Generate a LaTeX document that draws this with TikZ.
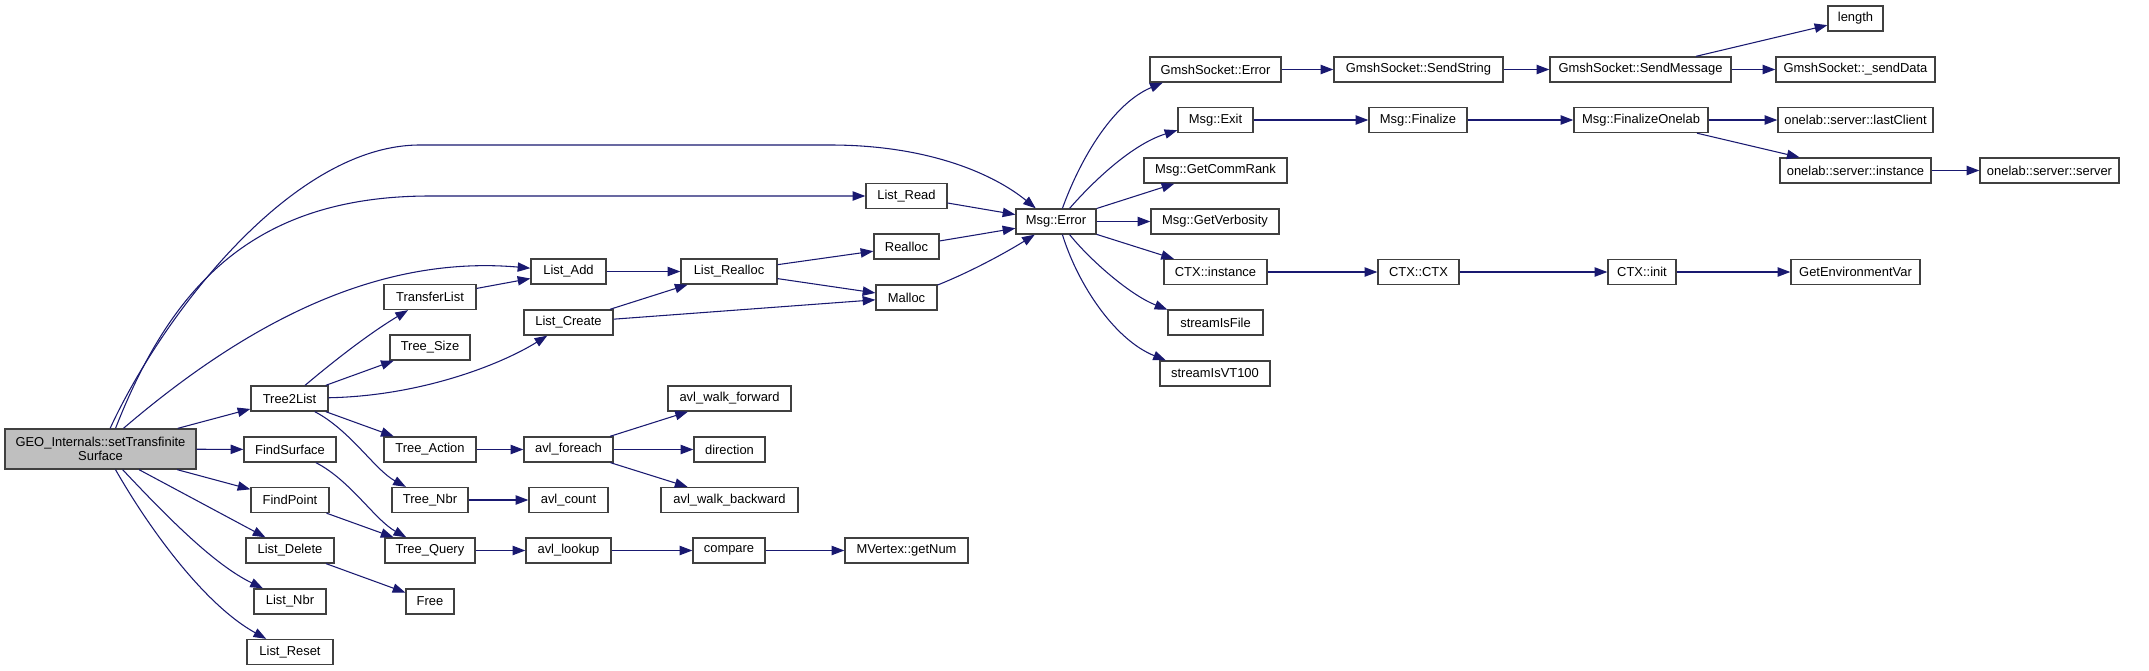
\documentclass[tikz,border=0pt]{standalone}
\usepackage{fontspec}
\setmainfont{Liberation Sans}
\usepackage{xcolor}
\definecolor{CallBlue}{HTML}{191970}
\definecolor{BoxEdge}{HTML}{404040}
\definecolor{RootGray}{HTML}{BFBFBF}
\usepackage{tikz}
\usetikzlibrary{arrows.meta}

\tikzset{
  fn/.style={draw=BoxEdge, line width=1pt, fill=white, rectangle,
    inner xsep=2pt, inner ysep=0pt, minimum height=18.75pt,
    font=\fontsize{9.7}{10.8}\selectfont, text=black},
  call/.style={draw=CallBlue, line width=0.8pt,
    -{Triangle[length=9.5pt,width=7pt]}},
}

\begin{document}
\begin{tikzpicture}[x=0.75pt, y=-0.75pt]
  \useasboundingbox (0,0) rectangle (2149,671);
  % root function
  \node[fn, fill=RootGray, align=center, minimum width=143.25pt, minimum height=30pt]
    (geo) at (100.5,449) {GEO\_Internals::setTransfinite\\Surface};
  % callees: name/x/y/width(px)/label
  \foreach \nm/\cx/\cy/\w/\txt in {
    t2l/289.5/398.5/77/Tree2List,
    fsurf/290/449.5/92/FindSurface,
    fpoint/290/500/78/FindPoint,
    ldel/290/550.5/88/List\_Delete,
    lnbr/290/601.5/72/List\_Nbr,
    lreset/290/652/86/List\_Reset,
    tlist/430/297/92/TransferList,
    tsize/430/347.5/80/Tree\_Size,
    tact/430/449.5/92/Tree\_Action,
    tnbr/430/500/76/Tree\_Nbr,
    tquery/430/550.5/90/Tree\_Query,
    free/430/601.5/48/Free,
    ladd/568.5/271.5/75/List\_Add,
    lcreate/568.5/322.5/89/List\_Create,
    avlfe/568.5/449.5/89/avl\_foreach,
    avlcnt/568.5/500/79/avl\_count,
    avllk/568.5/550.5/85/avl\_lookup,
    lrealloc/729/271.5/96/List\_Realloc,
    awf/729.5/398.5/123/avl\_walk\_forward,
    dirn/729.5/449.5/71/direction,
    awb/729.5/500/137/avl\_walk\_backward,
    cmp/729/550.5/72/compare,
    getnum/906.5/550.5/123/MVertex::getNum,
    lread/906.5/196/81/List\_Read,
    realloc/906.5/246.5/65/Realloc,
    malloc/906.5/297.5/61/Malloc,
    merr/1056/221.5/80/Msg::Error,
    gerr/1215.5/69.5/131/GmshSocket::Error,
    mexit/1215.5/120/75/Msg::Exit,
    crank/1215.5/170.5/143/Msg::GetCommRank,
    verb/1215/221.5/128/Msg::GetVerbosity,
    ctxi/1215.5/272/103/CTX::instance,
    sfile/1215.5/322.5/95/streamIsFile,
    svt/1215/373.5/110/streamIsVT100,
    sstr/1418.5/69.5/169/GmshSocket::SendString,
    fin/1418/120/98/Msg::Finalize,
    ctxctx/1418.5/272/81/CTX::CTX,
    smsg/1640.5/69.5/181/GmshSocket::SendMessage,
    fonelab/1641/120/134/Msg::FinalizeOnelab,
    ctxinit/1642/272/68/CTX::init,
    len/1855.5/18.5/55/length,
    sdata/1855.5/69.5/159/GmshSocket::\_sendData,
    lastc/1855.5/120/155/onelab::server::lastClient,
    oinst/1855.5/170.5/151/onelab::server::instance,
    oserv/2049.5/170.5/139/onelab::server::server,
    genv/1855.5/272/129/GetEnvironmentVar}{
    \node[fn, minimum width=\w*0.75pt] (\nm) at (\cx,\cy) {\txt};
  }
  % straight calls
  \foreach \a/\b in {geo/t2l, geo/fsurf, geo/fpoint, geo/ldel,
    t2l/tsize, t2l/tact, fpoint/tquery, ldel/free,
    tact/avlfe, tnbr/avlcnt, tquery/avllk, avllk/cmp, cmp/getnum,
    avlfe/awf, avlfe/dirn, avlfe/awb,
    tlist/ladd, ladd/lrealloc, lcreate/lrealloc, lcreate/malloc,
    lrealloc/realloc, lrealloc/malloc, lread/merr, realloc/merr,
    merr/crank, merr/verb, merr/ctxi,
    gerr/sstr, sstr/smsg, smsg/len, smsg/sdata,
    mexit/fin, fin/fonelab, fonelab/lastc, fonelab/oinst, oinst/oserv,
    ctxi/ctxctx, ctxctx/ctxinit, ctxinit/genv}{
    \draw[call] (\a) -- (\b);
  }
  % curved calls from the root
  \draw[call] (geo.65) .. controls (160,320) and (290,145) .. (420,145)
    -- (830,145) .. controls (930,145) and (995,175) .. (merr.147);
  \draw[call] (geo.54) .. controls (170,290) and (250,196) .. (430,196) -- (lread);
  \draw[call] (geo.42) .. controls (250,320) and (380,255) .. (ladd);
  \draw[call] (geo.-43) .. controls (170,520) and (215,565) .. (lnbr);
  \draw[call] (geo.-54) .. controls (150,530) and (205,605) .. (lreset);
  % curved calls, middle
  \draw[call] (t2l) .. controls (335,360) and (370,333) .. (tlist);
  \draw[call] (t2l) .. controls (420,396) and (500,365) .. (lcreate);
  \draw[call] (t2l) .. controls (350,430) and (375,470) .. (tnbr);
  \draw[call] (fsurf) .. controls (350,480) and (375,520) .. (tquery);
  \draw[call] (malloc) .. controls (975,270) and (1010,250) .. (merr);
  % fan out of Msg::Error
  \draw[call] (merr.64) .. controls (1078,165) and (1110,105) .. (gerr.194);
  \draw[call] (merr.44) .. controls (1090,185) and (1130,145) .. (mexit.195);
  \draw[call] (merr.-44) .. controls (1090,260) and (1130,295) .. (sfile.165);
  \draw[call] (merr.-64) .. controls (1078,285) and (1115,340) .. (svt.165);
\end{tikzpicture}
\end{document}
